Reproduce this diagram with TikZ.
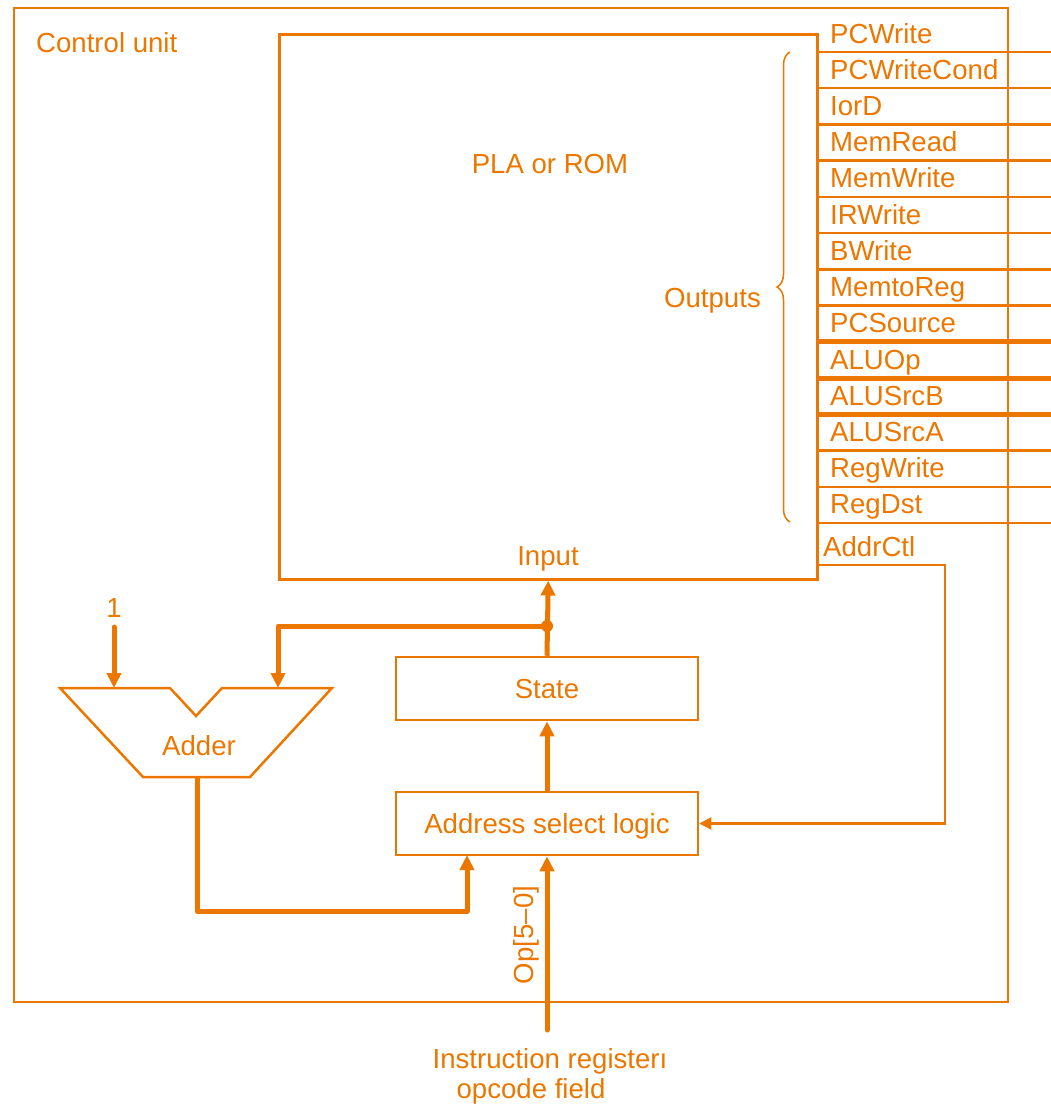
\documentclass[tikz,border=0pt]{standalone}
\usepackage{fontspec}
\setmainfont{Liberation Sans}
\usetikzlibrary{arrows.meta,decorations.pathreplacing}
\definecolor{org}{RGB}{236,119,0}
\begin{document}
\begin{tikzpicture}[x=1pt,y=-1pt,
  every node/.style={text=org, font=\fontsize{27.6}{33}\selectfont, inner sep=0pt},
  box/.style={draw=org, line width=2.5pt, minimum width=302pt, minimum height=63pt},
  thinw/.style={draw=org, line width=2.5pt},
  thickw/.style={draw=org, line width=5pt},
  bigarrow/.style={thickw, -{Triangle[length=15pt,width=14pt]}},
  smallarrow/.style={thinw, -{Triangle[length=12pt,width=12pt]}},
  lbl/.style={anchor=base west}
]
\useasboundingbox (0,0) rectangle (1051,1106);
% outer frame
\draw[org, line width=1.5pt] (14,8) rectangle (1008,1002);
\node[anchor=base west] (cu) at (36,52) {Control unit};
% PLA
\node[draw=org, line width=2.5pt, minimum width=538pt, minimum height=545pt, anchor=north west] (pla) at (278,33) {};
\node (plat) at (550,164) {PLA or ROM};
\node[anchor=base] (inp) at (548,565) {Input};
% output lines
\foreach \k in {0,...,13} {
  \ifnum\k=8 \def\w{5pt}\else\ifnum\k=9 \def\w{5pt}\else\ifnum\k=10 \def\w{5pt}\else\def\w{2.5pt}\fi\fi\fi
  \draw[org, line width=\w] (816,{52+36.23*\k}) -- (1051,{52+36.23*\k});
}
\foreach \name [count=\i from 0] in {PCWrite,PCWriteCond,IorD,MemRead,MemWrite,IRWrite,BWrite,MemtoReg,PCSource,ALUOp,ALUSrcB,ALUSrcA,RegWrite,RegDst} {
  \node[lbl] (o\i) at (830,{43+36.23*\i}) {\name};
}
\node[lbl] (addrctl) at (823,556) {AddrCtl};
% brace
\draw[org, line width=1.5pt, decorate, decoration={brace, amplitude=13pt}] (790,522) -- (790,52);
\node[anchor=base east] (outs) at (761,307) {Outputs};
% state and address select logic
\node[box] (state) at (547,688.5) {};
\node[anchor=base] (statet) at (547,698) {State};
\node[box] (asl) at (547,823.5) {};
\node[anchor=base] (aslt) at (547,833) {Address select logic};
% adder
\draw[org, line width=2.5pt, line join=miter] (60,688) -- (170,688) -- (196,716) -- (222,688) -- (332,688) -- (250,777) -- (143,777) -- cycle;
\node[anchor=base] (adder) at (199,755) {Adder};
\coordinate (addin1) at (114,688);
\coordinate (addin2) at (278,688);
\coordinate (addout) at (197,777);
\node[anchor=base] (one) at (114,617) {1};
% connectors
\coordinate (j) at (547,626);
\draw[bigarrow] (state.north) -- (pla.south);
\fill[org] (j) circle (6pt);
\draw[bigarrow, line join=round] (j) -| (addin2);
\draw[bigarrow, line cap=round] (114,627) -- (addin1);
\draw[bigarrow, line join=round] (addout) -- (197,911) -| (467,855);
\draw[bigarrow] (asl.north) -- (state.south);
\coordinate (irsrc) at (547,1030);
\draw[bigarrow, line cap=round] (irsrc) -- (asl.south);
\node[rotate=90] (op) at (526,935) {Op[5–0]};
\coordinate (ac) at (816,565);
\draw[smallarrow] (ac) -- (945,565) |- (asl.east);
% instruction register label
\node[anchor=base] (ir1) at (550,1068) {Instruction registerı};
\node[anchor=base] (ir2) at (531,1098) {opcode field};
\end{tikzpicture}
\end{document}
